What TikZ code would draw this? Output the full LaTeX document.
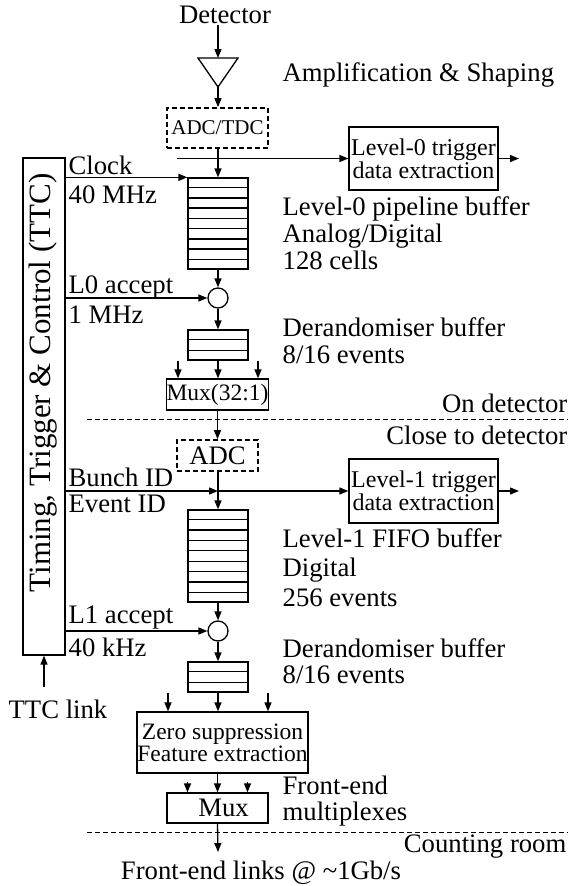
\documentclass[tikz,border=0pt]{standalone}
\usepackage{fontspec}
\setmainfont{Liberation Serif}
\usetikzlibrary{arrows.meta,calc}

\newcommand{\bufrows}[2]{%
  \foreach \k [evaluate=\k as \f using \k/(#2+1)] in {1,...,#2}
    \draw ($(#1.north west)!\f!(#1.south west)$) -- ($(#1.north east)!\f!(#1.south east)$);}

\begin{document}
\begin{tikzpicture}[x=1pt,y=-1pt,line width=1.3pt,
  >={Triangle[length=9pt,width=7pt]},
  lbl/.style={inner sep=0pt,align=left,font=\fontsize{26.7}{27}\selectfont},
  blk/.style={draw,inner sep=0pt,align=center,font=\fontsize{23.5}{22.5}\selectfont},
  adcbox/.style={draw,dash pattern=on 5pt off 3pt,line width=1.7pt,inner sep=0pt},
  buf/.style={draw,inner sep=0pt,minimum width=60pt},
  acc/.style={draw,circle,inner sep=0pt,minimum size=20pt},
  sep/.style={line width=1pt,dash pattern=on 5pt off 3pt}]
  \useasboundingbox (0,0) rectangle (574,886);

  \node[lbl] (det) at (225,15) {Detector};
  \coordinate (ampin) at (218,58);
  \coordinate (ampout) at (218,87);
  \draw (198,58) -- (238,58) -- (ampout) -- cycle;
  \node[lbl,anchor=west] (amplbl) at (282,75) {Amplification \& Shaping};
  \node[adcbox,minimum width=101pt,minimum height=40pt,font=\fontsize{21}{21}\selectfont] (adc0) at (217.5,128) {ADC/TDC};
  \node[buf,minimum height=91pt] (pipe0) at (218,223.5) {};
  \bufrows{pipe0}{8}
  \node[lbl,anchor=west] (pipe0lbl) at (282,233) {Level-0 pipeline buffer\\Analog/Digital\\128 cells};
  \node[blk,minimum width=149pt,minimum height=63pt,font=\fontsize{24}{23}\selectfont] (trig0) at (423.5,158.5) {Level-0 trigger\\data extraction};
  \coordinate (tap0) at (177,158.5);
  \coordinate (trig0out) at (519,158.5);
  \node[acc] (acc0) at (218,298) {};
  \node[buf,minimum height=30pt] (der0) at (218,345) {};
  \bufrows{der0}{2}
  \node[lbl,anchor=west] (der0lbl) at (282,340.5) {Derandomiser buffer\\8/16 events};
  \node[blk,minimum width=101pt,minimum height=31pt] (mux0) at (217.5,394.5) {Mux(32:1)};
  \node[lbl,anchor=east] (ondet) at (568,403) {On detector};
  \node[lbl,anchor=east] (closedet) at (568,435) {Close to detector};
  \node[adcbox,minimum width=81pt,minimum height=31pt,font=\fontsize{26.7}{27}\selectfont] (adc1) at (217.5,455.5) {ADC};
  \coordinate (tag1) at (218,491);
  \node[blk,minimum width=149pt,minimum height=64pt,font=\fontsize{24}{23}\selectfont] (trig1) at (423.5,491) {Level-1 trigger\\data extraction};
  \coordinate (trig1out) at (519,491);
  \node[buf,minimum height=92pt] (fifo) at (218,556) {};
  \bufrows{fifo}{8}
  \node[lbl,anchor=west,font=\fontsize{26.7}{29.5}\selectfont] (fifolbl) at (282,567.5) {Level-1 FIFO buffer\\Digital\\256 events};
  \node[acc] (acc1) at (218,631) {};
  \node[buf,minimum height=30pt] (der1) at (218,677) {};
  \bufrows{der1}{2}
  \node[lbl,anchor=west,font=\fontsize{26.7}{26}\selectfont] (der1lbl) at (282,661) {Derandomiser buffer\\8/16 events};
  \node[blk,minimum width=171pt,minimum height=61pt,font=\fontsize{23.5}{22}\selectfont] (zs) at (222.5,742.5) {Zero suppression\\Feature extraction};
  \node[blk,minimum width=101pt,minimum height=30pt,font=\fontsize{26.7}{27}\selectfont] (mux1) at (217.5,808) {\hspace*{12pt}Mux};
  \node[lbl,anchor=west,font=\fontsize{26.7}{26}\selectfont] (mux1lbl) at (282,801.5) {Front-end\\multiplexes};
  \node[lbl,anchor=east] (countroom) at (567,847) {Counting room};
  \coordinate (links) at (218,852);
  \node[lbl] (linkslbl) at (261,873) {Front-end links @ \textasciitilde1Gb/s};

  \node[draw,inner sep=0pt,minimum width=42pt,minimum height=497pt] (ttc) at (44,406.5) {};
  \node[lbl,rotate=90,font=\fontsize{31}{31}\selectfont] (ttclbl) at (43,383) {Timing, Trigger \& Control (TTC)};
  \coordinate (ttclink) at (44,687);
  \node[lbl] (ttclinklbl) at (58,709) {TTC link};
  \node[lbl,anchor=west] (clk) at (68,165) {Clock};
  \node[lbl,anchor=west] (clkf) at (68,195) {40 MHz};
  \node[lbl,anchor=west] (l0a) at (68,287) {L0 accept};
  \node[lbl,anchor=west] (l0f) at (68,315) {1 MHz};
  \node[lbl,anchor=west] (bid) at (68,477) {Bunch ID};
  \node[lbl,anchor=west] (eid) at (68,504) {Event ID};
  \node[lbl,anchor=west] (l1a) at (68,618) {L1 accept};
  \node[lbl,anchor=west] (l1f) at (68,647) {40 kHz};

  \draw[->] (det.south -| ampin) -- (ampin);
  \draw[->] (ampout) -- (ampout |- adc0.north);
  \draw[->] (adc0.south -| pipe0.north) -- (pipe0.north);
  \draw[->] (tap0) -- (trig0.west);
  \draw[->] (trig0.east) -- (trig0out);
  \draw[->] (ttc.east |- pipe0.north west) -- (pipe0.north west);
  \draw[->] (pipe0.south) -- (acc0.north);
  \draw[->] (ttc.east |- acc0) -- (acc0.west);
  \draw[->] (acc0.south) -- (der0.north);
  \foreach \dx in {-40,0,40}
    \draw[->] ([xshift=\dx pt]der0.south) -- ([xshift=\dx pt]der0.south |- mux0.north);
  \draw[sep] (87,419) -- (568,419);
  \draw[->] (mux0.south) -- (adc1.north);
  \draw[->] (adc1.south -| fifo.north) -- (fifo.north);
  \draw[->] (ttc.east |- tag1) -- (tag1);
  \draw[->] (tag1) -- (trig1.west);
  \draw[->] (trig1.east) -- (trig1out);
  \draw[->] (fifo.south) -- (acc1.north);
  \draw[->] (ttc.east |- acc1) -- (acc1.west);
  \draw[->] (acc1.south) -- (der1.north);
  \foreach \dx in {-50,0,50}
    \draw[->] ([xshift=\dx pt]der1.south) -- ([xshift=\dx pt]der1.south |- zs.north);
  \draw[->] (zs.south -| mux1.north) -- (mux1.north);
  \foreach \dx in {-30,30}
    \draw[->] ([xshift=\dx pt,yshift=10pt]mux1.north) -- ([xshift=\dx pt]mux1.north);
  \draw[sep] (87,832) -- (568,832);
  \draw[->] (mux1.south) -- (links);
  \draw[->] (ttclink) -- (ttc.south);
\end{tikzpicture}
\end{document}
